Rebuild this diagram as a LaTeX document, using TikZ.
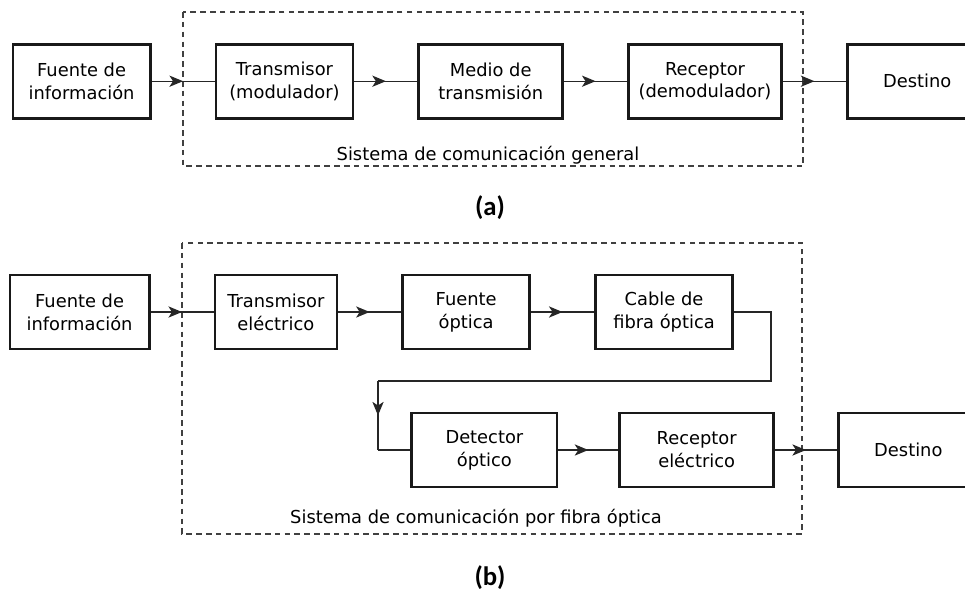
\documentclass[tikz,border=0pt]{standalone}
\usepackage{fontspec}
\setmainfont{DejaVu Sans}
\newfontfamily\capfont{Carlito}
\usetikzlibrary{arrows.meta, positioning, decorations.markings}

\begin{document}
\begin{tikzpicture}[
		node distance=1cm and 1.575cm,
		block/.style={draw=black!90, line width=1.9pt, minimum width=3.43cm, minimum height=1.85cm, align=center, inner sep=2pt, font=\fontsize{12.7}{16.3}\selectfont},
		flow/.style={draw=black!85, line width=1pt, postaction={decorate}, decoration={markings, mark=at position 0.5 with {\arrow[line width=1pt]{Stealth[length=3.4mm, width=2.8mm, inset=0.9mm]}}}},
		link/.style={draw=black!85, line width=1pt},
		frame/.style={draw=black!75, line width=0.8pt, dash pattern=on 4pt off 3pt},
		note/.style={font=\fontsize{12.7}{15}\selectfont},
		caption/.style={font=\capfont\bfseries\fontsize{19}{22}\selectfont}
	]
	
		\useasboundingbox (0,0) rectangle (24.125,-14.975);
		\clip (0,0) rectangle (24.125,-14.975);
	
		% (a) general system
		\draw[frame] (4.575,-0.3) rectangle (20.075,-4.15);
		\node[block] (srcA) at (2.04,-2.03) {Fuente de\\información};
		\node[block, right=of srcA] (txA) {Transmisor\\(modulador)};
		\node[block, right=of txA, minimum width=3.6cm] (medA) {Medio de\\transmisión};
		\node[block, right=of medA, minimum width=3.83cm] (rxA) {Receptor\\(demodulador)};
		\node[block, right=of rxA, minimum width=3.5cm] (dstA) {Destino};
		\node[note] (sysA) at (12.2,-3.87) {Sistema de comunicación general};
		\node[caption] (capA) at (12.25,-5.2) {(a)};
		
		\draw[flow] (srcA) -- (txA);
		\draw[flow] (txA) -- (medA);
		\draw[flow] (medA) -- (rxA);
		\draw[flow] (rxA) -- (dstA);
		
		% (b) fibre optic system
		\draw[frame] (4.55,-6.075) rectangle (20.05,-13.35);
		\node[block, minimum width=3.48cm] (srcB) at (1.99,-7.8) {Fuente de\\información};
		\node[block, right=of srcB, minimum width=3.05cm] (txB) {Transmisor\\eléctrico};
		\node[block, right=of txB, minimum width=3.18cm] (optB) {Fuente\\óptica};
		\node[block, right=of optB] (fibB) {Cable de\\fibra óptica};
		\node[block, minimum width=3.63cm] (detB) at (12.11,-11.25) {Detector\\óptico};
		\node[block, right=1.5cm of detB, minimum width=3.85cm] (rxB) {Receptor\\eléctrico};
		\node[block, right=1.55cm of rxB, minimum width=3.5cm] (dstB) {Destino};
		\node[note] (sysB) at (11.9,-12.95) {Sistema de comunicación por fibra óptica};
		\node[caption] (capB) at (12.25,-14.45) {(b)};
		\coordinate (loopR) at (19.275,-9.525);
		\coordinate (loopL) at (9.45,-9.525);
		
		\draw[flow] (srcB) -- (txB);
		\draw[flow] (txB) -- (optB);
		\draw[flow] (optB) -- (fibB);
		\draw[link] (fibB) -| (loopR) -- (loopL);
		\draw[flow] (loopL) -- (loopL |- detB.west);
		\draw[link] (loopL |- detB.west) -- (detB);
		\draw[flow] (detB) -- (rxB);
		\draw[flow] (rxB) -- (dstB);
		
	\end{tikzpicture}
\end{document}
